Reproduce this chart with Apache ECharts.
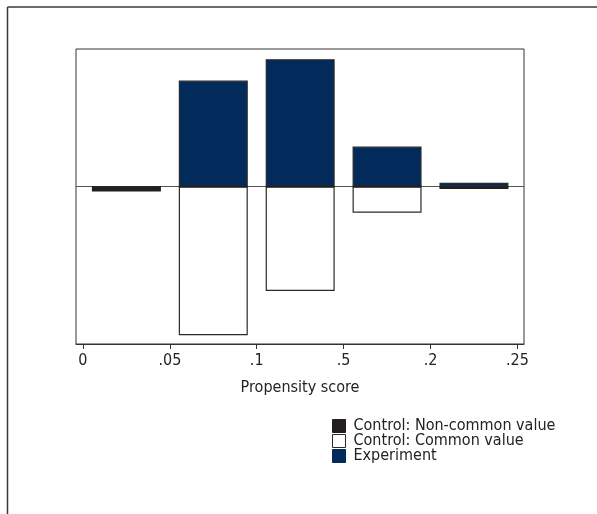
<!DOCTYPE html>
<html>
<head>
<meta charset="utf-8">
<style>
  html, body { margin: 0; padding: 0; background: #fff; }
  #chart { width: 597px; height: 514px; }
</style>
<script src="https://cdn.jsdelivr.net/npm/echarts@6/dist/echarts.min.js"></script>
</head>
<body>
<div id="chart"></div>
<script>
// Propensity-score bins (bin centres) and bar heights (density units)
const binCenters = [0.025, 0.075, 0.125, 0.175, 0.225];
const experiment = [0, 4.24, 5.09, 1.6, 0.15];
const controlCommon = [0, -5.94, -4.17, -1.04, 0];
const controlNonCommon = [-0.2, 0, 0, 0, -0.1];

// Axis tick positions and their printed labels
const tickValues = [0, 0.05, 0.1, 0.15, 0.2, 0.25];
const tickLabels = ['0', '.05', '.1', '.5', '.2', '.25'];

const FONT = '"Liberation Sans Narrow", "DejaVu Sans Condensed", sans-serif';
const NAVY = '#022a5a';
const BLACK = '#231f20';
const EDGE = '#2b2b2b';

const pairs = vals => binCenters.map((x, i) => [x, vals[i]]);

const chart = echarts.init(document.getElementById('chart'), null, { renderer: 'canvas' });

const option = {
  backgroundColor: '#fff',
  animation: false,
  textStyle: { fontFamily: FONT },
  graphic: [
    { type: 'line', shape: { x1: 7.5, y1: 7, x2: 597, y2: 7 }, style: { stroke: '#3a3a3a', lineWidth: 1.5 } },
    { type: 'line', shape: { x1: 7.5, y1: 7, x2: 7.5, y2: 514 }, style: { stroke: '#3a3a3a', lineWidth: 1.5 } }
  ],
  grid: {
    left: 76, right: 73, top: 49, bottom: 170,
    show: true, borderColor: '#333', borderWidth: 1, backgroundColor: 'transparent'
  },
  xAxis: {
    type: 'value',
    min: -0.004, max: 0.2538,
    name: 'Propensity score',
    nameLocation: 'middle',
    nameGap: 36,
    nameTextStyle: { fontFamily: FONT, fontSize: 16, color: '#222' },
    axisLine: { show: true, onZero: false, lineStyle: { color: '#333', width: 1 } },
    splitLine: { show: false },
    axisTick: {
      show: true, length: 5, inside: false,
      customValues: tickValues,
      lineStyle: { color: '#333', width: 1 }
    },
    axisLabel: {
      customValues: tickValues,
      margin: 9,
      fontFamily: FONT, fontSize: 16, color: '#222',
      formatter: v => {
        const i = tickValues.findIndex(t => Math.abs(t - v) < 1e-9);
        return i >= 0 ? tickLabels[i] : '';
      }
    }
  },
  yAxis: {
    type: 'value',
    min: -6.29, max: 5.5,
    axisLine: { show: false },
    axisTick: { show: false },
    axisLabel: { show: false },
    splitLine: { show: false }
  },
  legend: {
    orient: 'vertical',
    left: 332, top: 418,
    padding: 0,
    itemWidth: 13, itemHeight: 13, itemGap: -1,
    icon: 'rect',
    textStyle: { fontFamily: FONT, fontSize: 16, lineHeight: 13, color: '#222', padding: [0, 0, 0, 3] },
    data: [
      { name: 'Control: Non-common value', itemStyle: { color: BLACK, borderColor: BLACK, borderWidth: 1 } },
      { name: 'Control: Common value', itemStyle: { color: '#fff', borderColor: EDGE, borderWidth: 1 } },
      { name: 'Experiment', itemStyle: { color: NAVY, borderColor: NAVY, borderWidth: 1 } }
    ]
  },
  series: [
    {
      name: 'Control: Common value',
      type: 'bar', stack: 'ps', barWidth: 69,
      itemStyle: { color: '#fff', borderColor: EDGE, borderWidth: 1.2 },
      data: pairs(controlCommon),
      z: 2
    },
    {
      name: 'Experiment',
      type: 'bar', stack: 'ps', barWidth: 69,
      itemStyle: { color: NAVY, borderColor: EDGE, borderWidth: 1.2 },
      data: pairs(experiment),
      z: 2,
      markLine: {
        silent: true, symbol: 'none', label: { show: false },
        lineStyle: { color: '#555', width: 1, type: 'solid' },
        data: [{ yAxis: 0 }],
        z: 1
      }
    },
    {
      name: 'Control: Non-common value',
      type: 'bar', stack: 'ps', barWidth: 69,
      itemStyle: { color: BLACK, borderColor: BLACK, borderWidth: 1.5 },
      data: pairs(controlNonCommon),
      z: 3
    }
  ]
};

chart.setOption(option);
</script>
</body>
</html>
